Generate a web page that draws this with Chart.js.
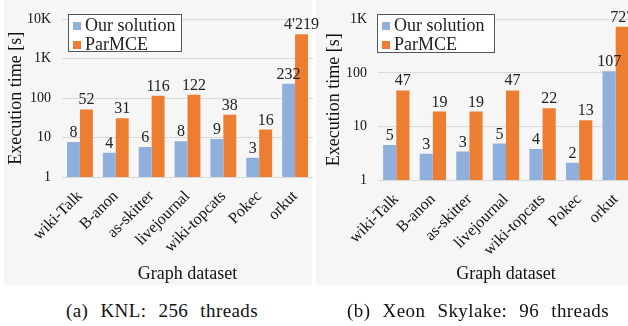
<!DOCTYPE html>
<html>
<head>
<meta charset="utf-8">
<script src="https://cdn.jsdelivr.net/npm/chart.js@4.4.1/dist/chart.umd.min.js"></script>
<style>
    body { margin: 0; width: 628px; height: 326px; overflow: hidden; background: #fff; position: relative; font-family: "Liberation Serif", serif; }
    .panel { position: absolute; top: 0; height: 285px; background: #f6f6f6; }
    canvas { position: absolute; top: 0; }
    .legend { position: absolute; background: #fff; border: 1.5px solid #555; box-sizing: border-box; font-size: 18px; color: #222; padding: 1px 0 0 4px; }
    .legend div { height: 19px; line-height: 19px; white-space: nowrap; }
    .legend span { display: inline-block; width: 8px; height: 8px; margin-right: 4px; vertical-align: 1px; }
    .caption { position: absolute; top: 300px; font-size: 19px; color: #111; letter-spacing: 0.4px; word-spacing: 7px; white-space: nowrap; text-align: center; }
</style>
</head>
<body>
<div class="panel" style="left:4px;width:308px"></div>
<div class="panel" style="left:316px;width:312px"></div>
<canvas id="knlChart" width="328" height="285" style="left:0"></canvas>
<canvas id="skylakeChart" width="316" height="285" style="left:318px"></canvas>

<div class="legend" style="left:68px;top:14px;width:114px;height:38px">
    <div><span style="background:#8fb0dd"></span>Our solution</div>
    <div><span style="background:#ed7d31"></span>ParMCE</div>
</div>
<div class="legend" style="left:377px;top:14px;width:118px;height:39px">
    <div><span style="background:#8fb0dd"></span>Our solution</div>
    <div><span style="background:#ed7d31"></span>ParMCE</div>
</div>

<div class="caption" style="left:12px;width:300px">(a) KNL: 256 threads</div>
<div class="caption" style="left:323px;width:310px">(b) Xeon Skylake: 96 threads</div>

<script>
const categories = ["wiki-Talk", "B-anon", "as-skitter", "livejournal", "wiki-topcats", "Pokec", "orkut"];
const knlOurs = [7.7, 4.1, 5.8, 8.1, 9.2, 3.1, 232];
const knlParmce = [52, 31, 116, 122, 38, 16, 4219];
const skylakeOurs = [4.5, 3.1, 3.4, 4.8, 3.8, 2.1, 107];
const skylakeParmce = [47, 19, 19, 47, 22, 13, 727];
const tickValues = [1, 10, 100, 1000, 10000];
const tickLabels = ["1", "10", "100", "1K", "10K"];

const blue = "#8fb0dd";
const orange = "#ed7d31";
const serif = "Liberation Serif";

function fmt(v) {
    // 4219 -> 4'219
    return String(Math.round(v)).replace(/\B(?=(\d{3})+(?!\d))/g, "'");
}

const barLabels = {
    id: "barLabels",
    afterDatasetsDraw(chart) {
        const ctx = chart.ctx;
        ctx.save();
        ctx.font = '16px "Liberation Serif"';
        ctx.fillStyle = "#222";
        ctx.textAlign = "center";
        ctx.textBaseline = "alphabetic";
        chart.data.datasets.forEach((ds, i) => {
            chart.getDatasetMeta(i).data.forEach((bar, j) => {
                ctx.fillText(fmt(ds.data[j]), bar.x, bar.y - 5);
            });
        });
        ctx.restore();
    }
};

function makeChart(id, ours, parmce, maxVal, yWidth, xHeight, padTop, padRight) {
    const ctx = document.getElementById(id).getContext("2d");
    return new Chart(ctx, {
        type: "bar",
        data: {
            labels: categories,
            datasets: [
                { label: "Our solution", data: ours, backgroundColor: blue },
                { label: "ParMCE", data: parmce, backgroundColor: orange }
            ]
        },
        options: {
            responsive: false,
            animation: false,
            devicePixelRatio: 1,
            layout: { padding: { top: padTop, right: padRight, left: 0, bottom: 0 } },
            datasets: { bar: { categoryPercentage: 0.72, barPercentage: 1.0 } },
            plugins: { legend: { display: false }, tooltip: { enabled: false } },
            scales: {
                x: {
                    grid: { display: false },
                    border: { display: false },
                    ticks: {
                        autoSkip: false, minRotation: 45, maxRotation: 45, padding: 2,
                        color: "#111", font: { family: serif, size: 16 }
                    },
                    title: {
                        display: true, text: "Graph dataset", color: "#111",
                        font: { family: serif, size: 18 }, padding: { top: 0, bottom: 0 }
                    },
                    afterFit: s => { s.height = xHeight; }
                },
                y: {
                    type: "logarithmic",
                    min: 1,
                    max: maxVal,
                    grid: { color: "#d9d9d9", drawTicks: false },
                    border: { display: false },
                    afterBuildTicks: s => {
                        s.ticks = tickValues.filter(v => v <= maxVal).map(v => ({ value: v }));
                    },
                    ticks: {
                        padding: 11, color: "#111", font: { family: serif, size: 14 },
                        callback: v => tickLabels[tickValues.indexOf(v)]
                    },
                    title: {
                        display: true, text: "Execution time [s]", color: "#111",
                        font: { family: serif, size: 18 }, padding: { top: 5, bottom: 0 }
                    },
                    afterFit: s => { s.width = yWidth; }
                }
            }
        },
        plugins: [barLabels]
    });
}

makeChart("knlChart", knlOurs, knlParmce, 10000, 62, 108, 14, 15);
makeChart("skylakeChart", skylakeOurs, skylakeParmce, 1000, 60, 105, 15, 0);
</script>
</body>
</html>
